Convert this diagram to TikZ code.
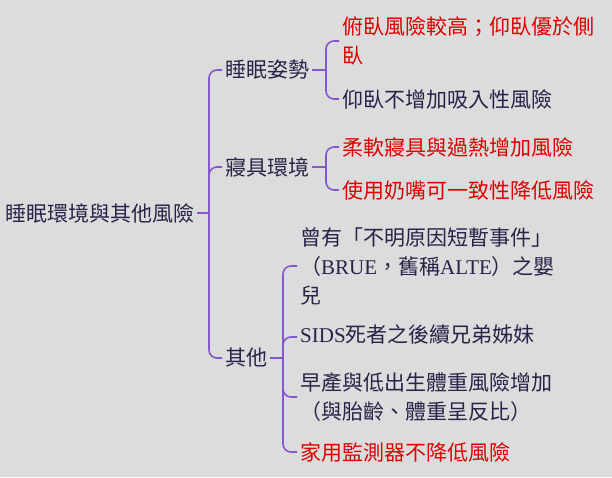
\documentclass[tikz,border=0pt]{standalone}
\usepackage{fontspec}
\setmainfont{Noto Sans CJK TC}
\newfontfamily\latinfont{Liberation Serif}
\newcommand{\lat}[1]{{\latinfont #1}}
\usetikzlibrary{positioning}
\definecolor{bggray}{HTML}{DCDCDC}
\definecolor{inkblue}{HTML}{2A2248}
\definecolor{riskred}{HTML}{DF0000}
\definecolor{linkpurple}{HTML}{8458CC}
\tikzset{
  topic/.style={anchor=west,inner sep=3pt,text=inkblue,
    font=\fontsize{21}{29}\selectfont,align=left},
  hot/.style={topic,text=riskred},
  branch/.style={draw=linkpurple,line width=1.6pt,rounded corners=8pt},
}

\begin{document}
\begin{tikzpicture}[x=1pt,y=-1pt]
  \fill[bggray] (0,0) rectangle (612,477);
  \node[topic] (root) at (2,213) {睡眠環境與其他風險};
  \node[topic] (pos) at (222,70) {睡眠姿勢};
  \node[topic] (bed) at (222,167) {寢具環境};
  \node[topic] (misc) at (222,358) {其他};
  \node[hot] (prone) at (339,41) {俯臥風險較高；仰臥優於側\\臥};
  \node[topic] (supine) at (339,99) {仰臥不增加吸入性風險};
  \node[hot] (soft) at (339,147) {柔軟寢具與過熱增加風險};
  \node[hot] (paci) at (339,190) {使用奶嘴可一致性降低風險};
  \node[topic] (brue) at (297,266) {曾有「不明原因短暫事件」\\（\lat{BRUE}，舊稱\lat{ALTE}）之嬰\\兒};
  \node[topic] (sib) at (297,337) {\strut\lat{SIDS}死者之後續兄弟姊妹};
  \node[topic] (preterm) at (297,397) {早產與低出生體重風險增加\\（與胎齡、體重呈反比）};
  \node[hot] (monitor) at (297,452) {家用監測器不降低風險};
  \coordinate (rj) at (209,213);
  \coordinate (posj) at (326,70);
  \coordinate (bedj) at (326,167);
  \coordinate (miscj) at (283,358);
  \draw[branch] (root.east) -- (rj);
  \foreach \c in {pos,bed,misc} \draw[branch] (rj) |- (\c.west);
  \draw[branch] (pos.east) -- (posj);
  \foreach \c in {prone,supine} \draw[branch] (posj) |- (\c.west);
  \draw[branch] (bed.east) -- (bedj);
  \foreach \c in {soft,paci} \draw[branch] (bedj) |- (\c.west);
  \draw[branch] (misc.east) -- (miscj);
  \foreach \c in {brue,sib,preterm,monitor} \draw[branch] (miscj) |- (\c.west);
\end{tikzpicture}
\end{document}
